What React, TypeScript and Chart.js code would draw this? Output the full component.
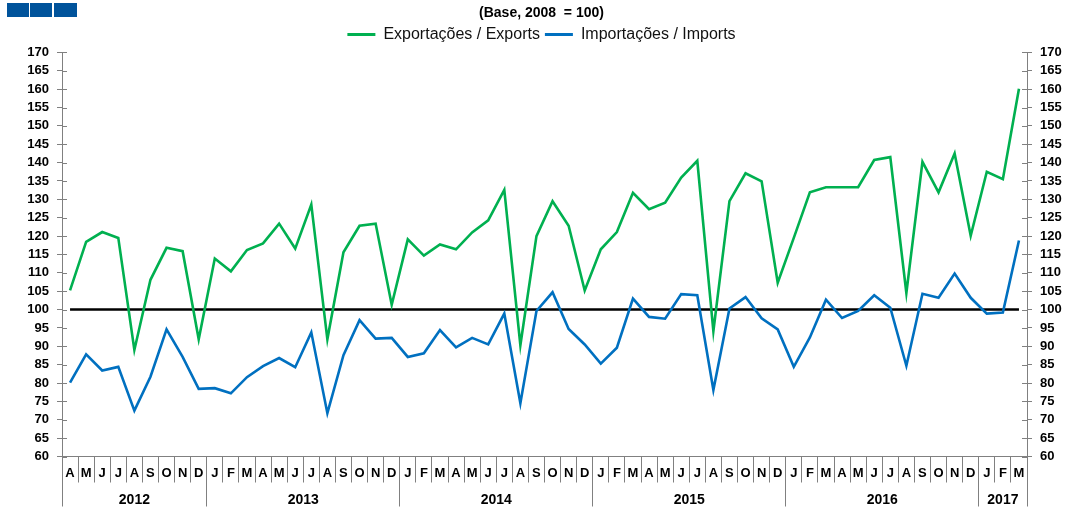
import React, { useEffect, useRef } from 'react';
import { Chart, registerables } from 'chart.js';

Chart.register(...registerables);

const monthLabels = [
  'A', 'M', 'J', 'J', 'A', 'S', 'O', 'N', 'D',
  'J', 'F', 'M', 'A', 'M', 'J', 'J', 'A', 'S', 'O', 'N', 'D',
  'J', 'F', 'M', 'A', 'M', 'J', 'J', 'A', 'S', 'O', 'N', 'D',
  'J', 'F', 'M', 'A', 'M', 'J', 'J', 'A', 'S', 'O', 'N', 'D',
  'J', 'F', 'M', 'A', 'M', 'J', 'J', 'A', 'S', 'O', 'N', 'D',
  'J', 'F', 'M',
];

const years = ['2012', '2013', '2014', '2015', '2016', '2017'];
const monthsInYear = [9, 12, 12, 12, 12, 3];

const exportsIdx = [
  105.2, 118.4, 121.1, 119.5, 89.0, 108.1, 116.8, 115.9, 91.9,
  113.9, 110.4, 116.2, 118.0, 123.4, 116.6, 128.6, 91.9, 115.6, 122.8, 123.4, 101.3,
  119.1, 114.7, 117.7, 116.4, 121.0, 124.3, 132.6, 90.3, 120.0, 129.5, 122.8, 105.2,
  116.4, 121.1, 131.8, 127.3, 129.1, 135.9, 140.5, 94.1, 129.5, 137.1, 134.9, 107.3,
  119.5, 131.9, 133.3, 133.3, 133.3, 140.7, 141.5, 104.5, 140.2, 131.9, 142.5, 120.1,
  137.5, 135.5, 160.1,
];

const importsIdx = [
  80.1, 87.8, 83.4, 84.4, 72.5, 81.7, 94.6, 87.1, 78.4,
  78.6, 77.2, 81.6, 84.6, 86.8, 84.3, 93.8, 71.8, 87.6, 97.1, 92.1, 92.3,
  87.1, 88.1, 94.4, 89.7, 92.3, 90.5, 98.9, 74.5, 99.6, 104.7, 94.7, 90.5,
  85.3, 89.6, 103.0, 98.0, 97.5, 104.2, 103.9, 78.1, 100.3, 103.4, 97.6, 94.6,
  84.4, 92.4, 102.7, 97.7, 99.6, 103.9, 100.5, 84.7, 104.3, 103.2, 109.8, 103.2,
  98.9, 99.2, 118.8,
];

const baseValue = 100;
const yMin = 60;
const yMax = 170;
const yStep = 5;

const FONT = "'Liberation Sans', Arial, sans-serif";
const AXIS_GRAY = '#808080';

// year axis ticks: boundaries (lines) and centers (labels)
const yearBounds: number[] = [-0.5];
const yearCenters: number[] = [];
{
  let acc = 0;
  monthsInYear.forEach((n) => {
    yearCenters.push(acc + (n - 1) / 2);
    acc += n;
    yearBounds.push(acc - 0.5);
  });
}

const innerTicks = {
  id: 'innerTicks',
  beforeDatasetsDraw(chart: any) {
    const ctx = chart.ctx;
    ctx.save();
    ctx.strokeStyle = AXIS_GRAY;
    ctx.lineWidth = 1;
    ['y', 'y2'].forEach((id) => {
      const s = chart.scales[id];
      s.ticks.forEach((_t: any, i: number) => {
        const y = Math.round(s.getPixelForTick(i)) + 0.5;
        ctx.beginPath();
        if (id === 'y') {
          ctx.moveTo(s.right, y);
          ctx.lineTo(s.right + 5, y);
        } else {
          ctx.moveTo(s.left - 5, y);
          ctx.lineTo(s.left, y);
        }
        ctx.stroke();
      });
    });
    ctx.restore();
  },
};

export default function App() {
  const canvasRef = useRef<HTMLCanvasElement | null>(null);

  useEffect(() => {
    const canvas = canvasRef.current;
    if (!canvas) return;
    const tickFont = { family: FONT, size: 13, weight: 'bold' as const };

    const chart = new Chart(canvas, {
      type: 'line',
      data: {
        labels: monthLabels,
        datasets: [
          {
            label: 'Exportações / Exports',
            data: exportsIdx,
            borderColor: '#00B050',
            backgroundColor: '#00B050',
            borderWidth: 2.6,
            pointRadius: 0,
            tension: 0,
            xAxisID: 'x',
            yAxisID: 'y',
          },
          {
            label: 'Importações / Imports',
            data: importsIdx,
            borderColor: '#0070C0',
            backgroundColor: '#0070C0',
            borderWidth: 2.6,
            pointRadius: 0,
            tension: 0,
            xAxisID: 'x',
            yAxisID: 'y',
          },
          {
            label: 'Base',
            data: monthLabels.map(() => baseValue),
            borderColor: '#000000',
            backgroundColor: '#000000',
            borderWidth: 2.4,
            pointRadius: 0,
            tension: 0,
            xAxisID: 'x',
            yAxisID: 'y',
          },
        ],
      },
      options: {
        animation: false,
        responsive: false,
        maintainAspectRatio: false,
        layout: { padding: { left: 14, right: 0, top: 0, bottom: 0 } },
        plugins: {
          tooltip: { enabled: false },
          title: {
            display: true,
            text: '(Base, 2008  = 100)',
            color: '#000',
            font: { family: FONT, size: 14, weight: 'bold' },
            padding: { top: 4.6, bottom: 0 },
          },
          legend: {
            display: true,
            position: 'top',
            labels: {
              color: '#111',
              font: { family: FONT, size: 16 },
              boxWidth: 28,
              boxHeight: 3,
              padding: 5,
              filter: (item: any) => item.datasetIndex !== 2,
              generateLabels: (ch: any) =>
                Chart.defaults.plugins.legend.labels
                  .generateLabels(ch)
                  .map((it: any) => ({ ...it, lineWidth: 0 })),
            },
          },
        },
        scales: {
          x: {
            type: 'category',
            position: 'bottom',
            weight: 0,
            offset: true,
            grid: {
              offset: true,
              drawOnChartArea: false,
              drawTicks: true,
              tickLength: 26,
              color: AXIS_GRAY,
            },
            border: { display: true, color: AXIS_GRAY, width: 1 },
            ticks: {
              autoSkip: false,
              maxRotation: 0,
              minRotation: 0,
              padding: -17,
              color: '#000',
              font: tickFont,
            },
            afterFit: (scale: any) => {
              scale.height = 25;
            },
          },
          x2: {
            type: 'linear',
            position: 'bottom',
            weight: 1,
            min: -0.5,
            max: monthLabels.length - 0.5,
            afterBuildTicks: (scale: any) => {
              const vals = [...yearBounds, ...yearCenters].sort((a, b) => a - b);
              scale.ticks = vals.map((v) => ({ value: v }));
            },
            grid: {
              drawOnChartArea: false,
              drawTicks: true,
              tickLength: 25,
              color: (ctx: any) =>
                ctx.tick && yearBounds.includes(ctx.tick.value) ? AXIS_GRAY : 'rgba(0,0,0,0)',
            },
            border: { display: false },
            ticks: {
              autoSkip: false,
              maxRotation: 0,
              minRotation: 0,
              padding: -15,
              color: '#000',
              font: { family: FONT, size: 14, weight: 'bold' },
              callback: (value: any) => {
                const i = yearCenters.indexOf(Number(value));
                return i >= 0 ? years[i] : '';
              },
            },
            afterFit: (scale: any) => {
              scale.height = 26.5;
            },
          },
          y: {
            type: 'linear',
            position: 'left',
            min: yMin,
            max: yMax,
            grid: {
              drawOnChartArea: false,
              drawTicks: true,
              tickLength: 5,
              color: AXIS_GRAY,
            },
            border: { display: true, color: AXIS_GRAY, width: 1 },
            ticks: {
              stepSize: yStep,
              autoSkip: false,
              padding: 8,
              color: '#000',
              font: tickFont,
            },
            afterFit: (scale: any) => {
              scale.width = 48;
            },
          },
          y2: {
            type: 'linear',
            position: 'right',
            min: yMin,
            max: yMax,
            grid: {
              drawOnChartArea: false,
              drawTicks: true,
              tickLength: 5,
              color: AXIS_GRAY,
            },
            border: { display: true, color: AXIS_GRAY, width: 1 },
            ticks: {
              stepSize: yStep,
              autoSkip: false,
              padding: 8,
              color: '#000',
              font: tickFont,
            },
            afterFit: (scale: any) => {
              scale.width = 42;
            },
          },
        },
      },
      plugins: [innerTicks],
    } as any);

    return () => {
      chart.destroy();
    };
  }, []);

  const sq = (left: number, width: number) => (
    <div
      style={{
        position: 'absolute',
        left,
        top: 3,
        width,
        height: 14,
        background: '#00539B',
      }}
    />
  );

  return (
    <div
      style={{
        position: 'fixed',
        left: 0,
        top: 0,
        width: 1069,
        height: 508,
        background: '#fff',
      }}
    >
      <canvas ref={canvasRef} width={1069} height={508} style={{ display: 'block' }} />
      {sq(7, 22)}
      {sq(30, 22)}
      {sq(54, 23)}
    </div>
  );
}
